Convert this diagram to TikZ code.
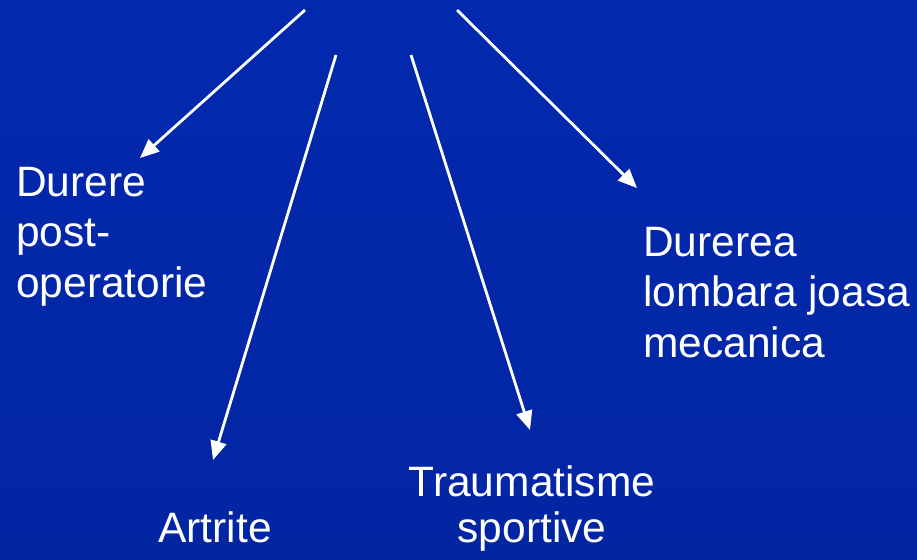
\documentclass[tikz,border=0pt]{standalone}
\usepackage{fontspec}
\setmainfont{Liberation Sans}
\usetikzlibrary{arrows.meta}
\definecolor{bgtop}{RGB}{2,40,174}
\definecolor{bgmid}{RGB}{0,50,200}
\definecolor{bgbot}{RGB}{2,38,162}
\tikzset{
  lbl/.style={text=white, inner sep=0pt, align=left, font=\fontsize{42.5}{50.5}\selectfont},
  conn/.style={draw=white, line width=2.8pt, -{Triangle[length=19pt,width=16pt]}}
}
\begin{document}
\begin{tikzpicture}[x=1pt,y=-1pt]
\shade[top color=bgtop, middle color=bgmid, bottom color=bgbot] (0,0) rectangle (917,559);
\useasboundingbox (0,0) rectangle (917,559);
% labels (base anchor = baseline of last line)
\node[lbl, anchor=base west] (post) at (16,297) {Durere\\post-\\operatorie};
\node[lbl, anchor=base] (artr) at (215,542) {Artrite};
\node[lbl, anchor=base, align=center, font=\fontsize{42.5}{45.5}\selectfont] (traum) at (532,542) {Traumatisme\\sportive};
\node[lbl, anchor=base west] (lomb) at (643,357) {Durerea\\lombara joasa\\mecanica};
% arrow ends
\coordinate (s1) at (305,10);  \coordinate (e1) at (140,158);
\coordinate (s2) at (336,55);  \coordinate (e2) at (213,460);
\coordinate (s3) at (411,55);  \coordinate (e3) at (530,430);
\coordinate (s4) at (457,10);  \coordinate (e4) at (637,188);
\draw[conn] (s1) -- (e1);
\draw[conn] (s2) -- (e2);
\draw[conn] (s3) -- (e3);
\draw[conn] (s4) -- (e4);
\end{tikzpicture}
\end{document}
